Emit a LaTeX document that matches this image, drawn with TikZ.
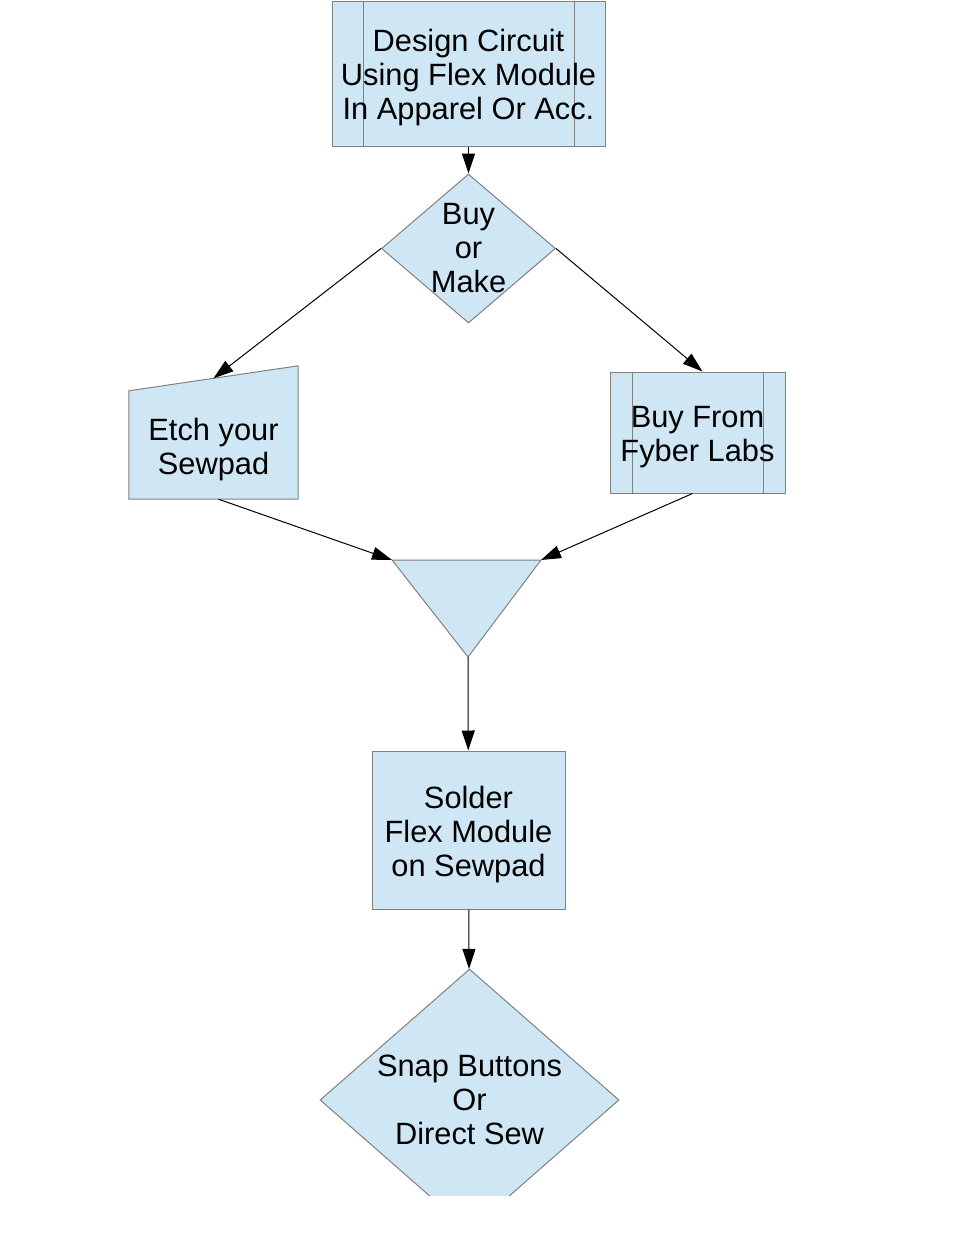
\documentclass[tikz,border=0pt]{standalone}
\usepackage{fontspec}
\setmainfont{Liberation Sans}
\usepackage{tikz}
\usetikzlibrary{positioning, shapes.geometric, arrows.meta, backgrounds}

\definecolor{boxfill}{RGB}{207,231,245}
\definecolor{boxline}{RGB}{128,128,128}
\newcommand{\flowfont}{\fontsize{30.8}{34}\selectfont}
\newcommand{\lift}{\rule{0pt}{30.5pt}}

\begin{document}
\begin{tikzpicture}[
    x=1pt, y=-1pt,
    >={Triangle[length=20pt, width=13pt]},
    every edge/.style={draw, line width=1pt},
    shp/.style={draw=boxline, fill=boxfill, line width=1pt},
    box/.style={shp, rectangle, inner sep=0pt, align=center, font=\flowfont},
    proc/.style={box, path picture={
        \draw[boxline, line width=1pt]
            ([xshift=#1]path picture bounding box.north west) -- ([xshift=#1]path picture bounding box.south west)
            ([xshift=-#1]path picture bounding box.north east) -- ([xshift=-#1]path picture bounding box.south east);}},
    decision/.style={shp, diamond, inner sep=0pt},
    txt/.style={align=center, font=\flowfont, inner sep=0pt}]

    \useasboundingbox (0,0) rectangle (961,1243);

    \node at (468.5,73.5) [proc=31pt, minimum width=273pt, minimum height=145pt] (design) {\lift Design Circuit\\Using Flex Module\\In Apparel Or Acc.};
    \node [decision, minimum width=174pt, minimum height=149pt, below=27pt of design] (make) {};
    \node [txt] at (make) (maketext) {Buy\\or\\Make};

    \node at (213.5,445) [txt, minimum width=169pt, minimum height=108pt] (etch) {\lift Etch your\\Sewpad};
    \begin{pgfonlayer}{background}
        \draw[shp] (etch.south west) -- (etch.south east) -- ([yshift=25pt]etch.north east) -- (etch.north west) -- cycle;
    \end{pgfonlayer}
    \coordinate (etchtop) at ([yshift=12.5pt]etch.north);

    \node at (697.5,432.5) [proc=22pt, minimum width=175pt, minimum height=121pt] (fyber) {\lift Buy From\\Fyber Labs};

    % merge
    \coordinate (mergeL) at (392,560);
    \coordinate (mergeR) at (541,560);
    \coordinate (mergeB) at (468,657);
    \draw[shp] (mergeL) -- (mergeR) -- (mergeB) -- cycle;

    \node at (468.5,830) [box, minimum width=193pt, minimum height=158pt] (solder) {\lift Solder\\Flex Module\\on Sewpad};

    \begin{scope}
        \clip (0,0) rectangle (961,1195);
        \node at (469.5,1100) [decision, minimum width=299pt, minimum height=262pt] (snap) {};
        \node [txt] at (snap) (snaptext) {Snap Buttons\\Or\\Direct Sew};
    \end{scope}

    \path (design) edge [->] (make);
    \path (make.west) edge [->] (etchtop);
    \path (make.east) edge [->] ([xshift=5pt]fyber.north);
    \path ([xshift=5pt]etch.south) edge [->] (mergeL);
    \path ([xshift=-5pt]fyber.south) edge [->] (mergeR);
    \path (mergeB) edge [->] (solder);
    \path (solder) edge [->] (snap);

\end{tikzpicture}
\end{document}
